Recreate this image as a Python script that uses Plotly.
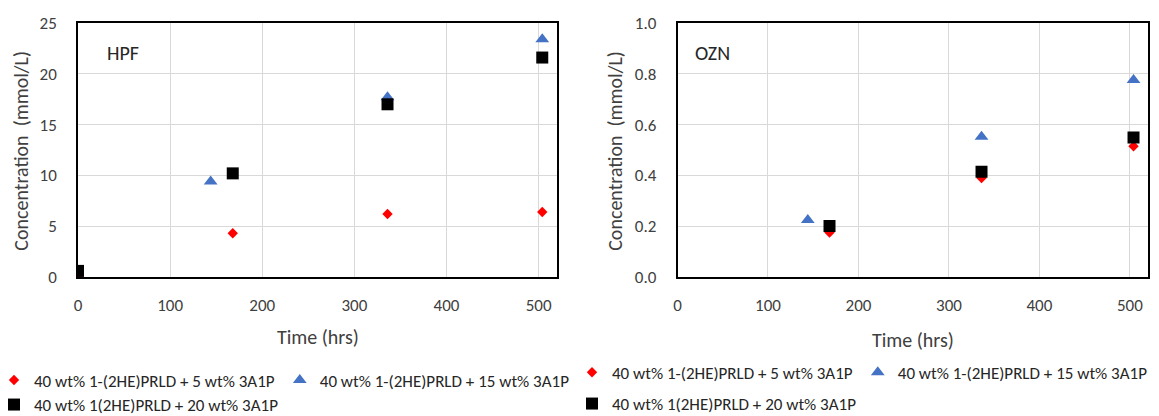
import plotly.graph_objects as go

# HPF panel
hpf_time_red = [0, 168, 336, 504]
hpf_red = [0.0, 4.3, 6.2, 6.4]
hpf_time_blue = [144, 336, 504]
hpf_blue = [9.4, 17.7, 23.4]
hpf_time_black = [0, 168, 336, 504]
hpf_black = [0.6, 10.2, 17.0, 21.6]

# OZN panel
ozn_time_red = [168, 336, 504]
ozn_red = [0.175, 0.39, 0.515]
ozn_time_blue = [144, 336, 504]
ozn_blue = [0.224, 0.552, 0.776]
ozn_time_black = [168, 336, 504]
ozn_black = [0.201, 0.414, 0.549]

names = ["40 wt% 1-(2HE)PRLD + 5 wt% 3A1P",
         "40 wt% 1-(2HE)PRLD + 15 wt% 3A1P",
         "40 wt% 1(2HE)PRLD + 20 wt% 3A1P"]

FONT = "Calibri, Carlito, Lato, sans-serif"
RED = "#ff0000"
BLUE = "#4472c4"
BLACK = "#000000"

fig = go.Figure()

def add_series(x, y, name, color, symbol, size, xa, ya, legend):
    fig.add_trace(go.Scatter(
        x=x, y=y, mode="markers", name=name,
        marker=dict(color=color, symbol=symbol, size=size, line=dict(width=0)),
        xaxis=xa, yaxis=ya, legend=legend))

add_series(hpf_time_red, hpf_red, names[0], RED, "diamond", 8, "x", "y", "legend")
add_series(hpf_time_blue, hpf_blue, names[1], BLUE, "triangle-up", 12, "x", "y", "legend")
add_series(hpf_time_black, hpf_black, names[2], BLACK, "square", 12, "x", "y", "legend2")

add_series(ozn_time_red, ozn_red, names[0], RED, "diamond", 8, "x2", "y2", "legend3")
add_series(ozn_time_blue, ozn_blue, names[1], BLUE, "triangle-up", 12, "x2", "y2", "legend3")
add_series(ozn_time_black, ozn_black, names[2], BLACK, "square", 12, "x2", "y2", "legend4")

W, H = 1159, 416
PAGE = 8  # default body margin of the html page

def px_x(v):
    return (v - PAGE) / W

def px_y(v):
    return 1 - (v - PAGE) / H

axis_common = dict(
    showline=True, mirror=True, linecolor="black", linewidth=1.5,
    showgrid=True, gridcolor="#d9d9d9", gridwidth=1, zeroline=False,
    ticks="outside", tickcolor="rgba(0,0,0,0)",
    tickfont=dict(family=FONT, size=17, color="#404040"),
)

xdom_l = [px_x(78), px_x(557)]
xdom_r = [px_x(677.5), px_x(1148)]
ydom = [px_y(277), px_y(23)]

fig.update_layout(
    width=W, height=H,
    margin=dict(l=0, r=0, t=0, b=0, autoexpand=False),
    paper_bgcolor="white", plot_bgcolor="white",
    font=dict(family=FONT, color="#404040"),
    xaxis=dict(domain=xdom_l, anchor="y", range=[0, 520], dtick=100, ticklen=12, **axis_common),
    yaxis=dict(domain=ydom, anchor="x", range=[0, 25], dtick=5, ticklen=16, **axis_common),
    xaxis2=dict(domain=xdom_r, anchor="y2", range=[0, 520], dtick=100, ticklen=12, **axis_common),
    yaxis2=dict(domain=ydom, anchor="x2", range=[0, 1.0], dtick=0.2, tickformat=".1f", ticklen=16, **axis_common),
)

legend_common = dict(
    orientation="h", xanchor="left", yanchor="middle",
    bgcolor="rgba(0,0,0,0)", borderwidth=0, itemwidth=30,
    font=dict(family=FONT, size=17, color="#262626"),
)
fig.update_layout(
    legend=dict(x=px_x(-6), y=px_y(380.5), **legend_common),
    legend2=dict(x=px_x(-6), y=px_y(405), **legend_common),
    legend3=dict(x=px_x(572), y=px_y(372.7), **legend_common),
    legend4=dict(x=px_x(572), y=px_y(404), **legend_common),
)

title_font = dict(family=FONT, size=20, color="#404040")
label_font = dict(family=FONT, size=20, color="#262626")
annotations = [
    dict(text="HPF", x=px_x(122.7), y=px_y(53.3), font=label_font),
    dict(text="OZN", x=px_x(713), y=px_y(53), font=label_font),
    dict(text="Concentration\u00a0 (mmol/L)", x=px_x(21.2), y=px_y(150.5), textangle=-90, font=title_font),
    dict(text="Concentration\u00a0 (mmol/L)", x=px_x(615.3), y=px_y(150.5), textangle=-90, font=title_font),
    dict(text="Time (hrs)", x=px_x(317.5), y=px_y(336.7), font=title_font),
    dict(text="Time (hrs)", x=px_x(912.7), y=px_y(340), font=title_font),
]
for a in annotations:
    fig.add_annotation(xref="paper", yref="paper", showarrow=False,
                       xanchor="center", yanchor="middle", **a)

fig.write_html("out.html")
